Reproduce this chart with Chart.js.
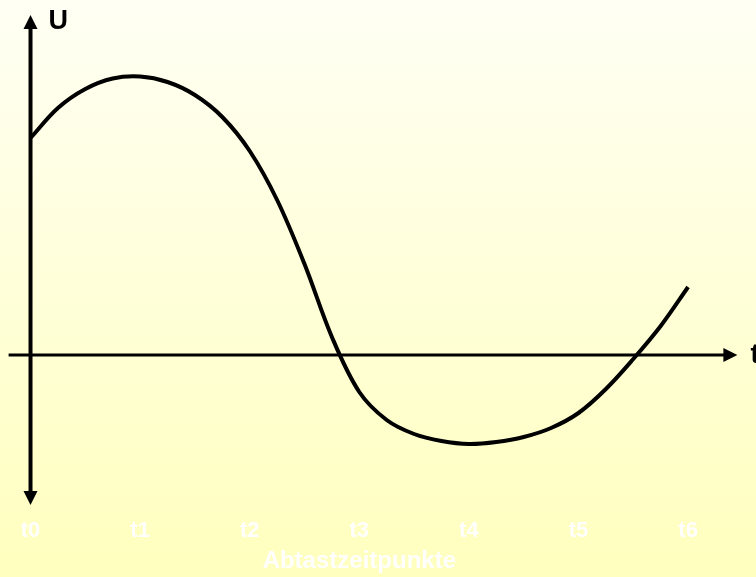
<!DOCTYPE html>
<html>
<head>
<meta charset="utf-8">
<script src="https://cdn.jsdelivr.net/npm/chart.js@4.4.1/dist/chart.umd.min.js"></script>
<style>
  html, body { margin: 0; padding: 0; background: #FFFFE0; }
  #divChartSignal { width: 756px; height: 577px; }
</style>
</head>
<body>
<div id="divChartSignal"><canvas id="chartSignal" width="756" height="577"></canvas></div>
<script>
// sample instants on the time axis
var tickLabels = ['t0', 't1', 't2', 't3', 't4', 't5', 't6'];
var axisTitle = 'Abtastzeitpunkte';

// the curve, every quarter step (U in arbitrary units)
var sampleT = [0.00, 0.25, 0.50, 0.75, 1.00, 1.25, 1.50, 1.75, 2.00, 2.25, 2.50, 2.75,
               3.00, 3.25, 3.50, 3.75, 4.00, 4.25, 4.50, 4.75, 5.00, 5.25, 5.50, 5.75, 6.00];
var sampleU = [2.17, 2.47, 2.66, 2.765, 2.785, 2.73, 2.60, 2.38, 2.04, 1.55, 0.91, 0.18,
               -0.37, -0.65, -0.79, -0.86, -0.89, -0.87, -0.82, -0.73, -0.58, -0.34, -0.04, 0.29, 0.68];

var points = [];
for (var i = 0; i < sampleT.length; i++) {
    points.push({ x: sampleT[i], y: sampleU[i] });
}

Chart.defaults.font.family = '"Liberation Sans", Arial, sans-serif';
Chart.defaults.font.weight = 'bold';

// background + arrow axes drawn from the scales
var axesPlugin = {
    id: 'arrowAxes',
    beforeDraw: function(chart) {
        var ctx = chart.ctx;
        var g = ctx.createLinearGradient(0, 0, 0, chart.height);
        g.addColorStop(0, '#FFFFF4');
        g.addColorStop(1, '#FFFFBE');
        ctx.save();
        ctx.fillStyle = g;
        ctx.fillRect(0, 0, chart.width, chart.height);
        ctx.restore();
    },
    beforeDatasetsDraw: function(chart) {
        var ctx = chart.ctx;
        var area = chart.chartArea;
        var x0 = chart.scales.x.getPixelForValue(0);
        var y0 = chart.scales.y.getPixelForValue(0);
        ctx.save();
        ctx.strokeStyle = '#000';
        ctx.fillStyle = '#000';

        // vertical U axis
        ctx.lineWidth = 4;
        ctx.beginPath();
        ctx.moveTo(x0, area.top + 10);
        ctx.lineTo(x0, area.bottom - 10);
        ctx.stroke();
        // horizontal t axis
        ctx.lineWidth = 3;
        ctx.beginPath();
        ctx.moveTo(area.left, y0);
        ctx.lineTo(area.right - 10, y0);
        ctx.stroke();

        // arrow heads
        ctx.beginPath();
        ctx.moveTo(x0, area.top);
        ctx.lineTo(x0 - 7, area.top + 14);
        ctx.lineTo(x0 + 7, area.top + 14);
        ctx.closePath();
        ctx.fill();
        ctx.beginPath();
        ctx.moveTo(x0, area.bottom);
        ctx.lineTo(x0 - 7, area.bottom - 14);
        ctx.lineTo(x0 + 7, area.bottom - 14);
        ctx.closePath();
        ctx.fill();
        ctx.beginPath();
        ctx.moveTo(area.right, y0);
        ctx.lineTo(area.right - 14, y0 - 7);
        ctx.lineTo(area.right - 14, y0 + 7);
        ctx.closePath();
        ctx.fill();

        // axis letters
        ctx.font = 'bold 27px "Liberation Sans", Arial, sans-serif';
        ctx.textBaseline = 'middle';
        ctx.textAlign = 'left';
        ctx.fillText('U', x0 + 18, area.top + 7);
        ctx.fillText('t', area.right + 13, y0 + 1);
        ctx.restore();
    },
    afterDraw: function(chart) {
        // axis caption sits under the middle sample (t3), not the middle of the axis
        var ctx = chart.ctx;
        ctx.save();
        ctx.font = 'bold 24px "Liberation Sans", Arial, sans-serif';
        ctx.fillStyle = '#FFFFFF';
        ctx.textAlign = 'center';
        ctx.textBaseline = 'middle';
        ctx.fillText(axisTitle, chart.scales.x.getPixelForValue(3), chart.chartArea.bottom + 56);
        ctx.restore();
    }
};

var ctx = document.getElementById('chartSignal');
var mySignalChart = new Chart(ctx, {
    type: 'line',
    data: {
        datasets: [{
            label: 'U(t)',
            data: points,
            borderColor: '#000',
            borderWidth: 4,
            pointRadius: 0,
            fill: false,
            tension: 0.35,
            clip: false
        }]
    },
    options: {
        responsive: false,
        animation: false,
        layout: {
            padding: { left: 8.6, right: 18.6, top: 15, bottom: 0 }
        },
        plugins: {
            legend: { display: false },
            tooltip: { enabled: false }
        },
        scales: {
            x: {
                type: 'linear',
                min: -0.2,
                max: 6.45,
                grid: { display: false, drawTicks: false },
                border: { display: false },
                afterBuildTicks: function(scale) {
                    scale.ticks = tickLabels.map(function(t, i) { return { value: i }; });
                },
                afterFit: function(scale) {
                    scale.height = 72;
                },
                ticks: {
                    padding: 13,
                    color: '#FFFFFF',
                    font: { size: 22, weight: 'bold' },
                    maxRotation: 0,
                    autoSkip: false,
                    callback: function(value) { return tickLabels[value]; }
                },
                title: { display: false }
            },
            y: {
                type: 'linear',
                display: false,
                min: -1.5,
                max: 3.4
            }
        }
    },
    plugins: [axesPlugin]
});
</script>
</body>
</html>
